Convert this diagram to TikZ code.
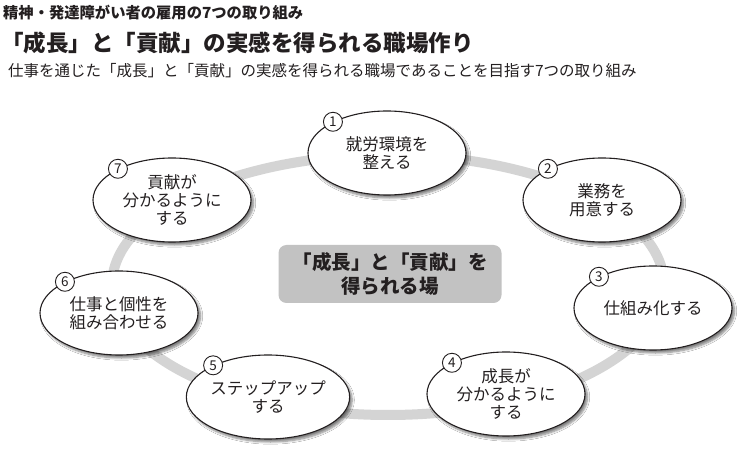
\documentclass[tikz,border=0pt]{standalone}
\usepackage{fontspec}
\setmainfont{Noto Sans CJK JP}
\usetikzlibrary{shapes.geometric,shadows.blur}
\definecolor{ink}{HTML}{231F20}
\definecolor{ringgray}{HTML}{D4D4D4}
\definecolor{hubgray}{HTML}{C2C2C2}
\tikzset{
  stepoval/.style={ellipse,draw=ink,line width=1.1pt,fill=white,
    minimum width=158pt,minimum height=84pt,inner sep=0pt,align=center,
    text=ink,font=\fontsize{16.5}{18}\selectfont,
    blur shadow={shadow xshift=2.5pt,shadow yshift=-3pt,shadow blur steps=6,shadow opacity=50}},
  numdot/.style={circle,draw=ink,line width=0.9pt,fill=white,minimum size=19pt,
    inner sep=0pt,text=ink,font=\fontsize{13.5}{13.5}\selectfont},
  headline/.style={anchor=west,inner sep=0pt,text=ink}
}
\begin{document}
\begin{tikzpicture}[x=1pt,y=-1pt]
\useasboundingbox[fill=white] (0,0) rectangle (740,449);
\node[headline,font=\bfseries\fontsize{15.3}{15.3}\selectfont] (t1) at (3,13) {精神・発達障がい者の雇用の7つの取り組み};
\node[headline,font=\bfseries\fontsize{22.5}{22.5}\selectfont] (t2) at (1,43) {「成長」と「貢献」の実感を得られる職場作り};
\node[headline,font=\fontsize{15.5}{15.5}\selectfont] (t3) at (8,71) {仕事を通じた「成長」と「貢献」の実感を得られる職場であることを目指す7つの取り組み};
\draw[ringgray,line width=10pt] (388,285) ellipse [x radius=276pt,y radius=130pt];
\node[rounded corners=8pt,fill=hubgray,minimum width=223pt,minimum height=58pt,align=center,
  text=ink,font=\bfseries\fontsize{19.5}{24.5}\selectfont] (hub) at (390,274) {「成長」と「貢献」を\\得られる場};
\foreach \n/\x/\y/\t in {1/387/153/{就労環境を\\整える},2/602/200/{業務を\\用意する},
  3/653/308/{仕組み化する},4/506/394/{成長が\\分かるように\\する},
  5/268/397/{ステップアップ\\する},6/119/313/{仕事と個性を\\組み合わせる},
  7/172/200/{貢献が\\分かるように\\する}}{
  \node[stepoval] (e\n) at (\x,\y) {\t};
  \node[numdot] (c\n) at (e\n.150) {\n};
}
\end{tikzpicture}
\end{document}
